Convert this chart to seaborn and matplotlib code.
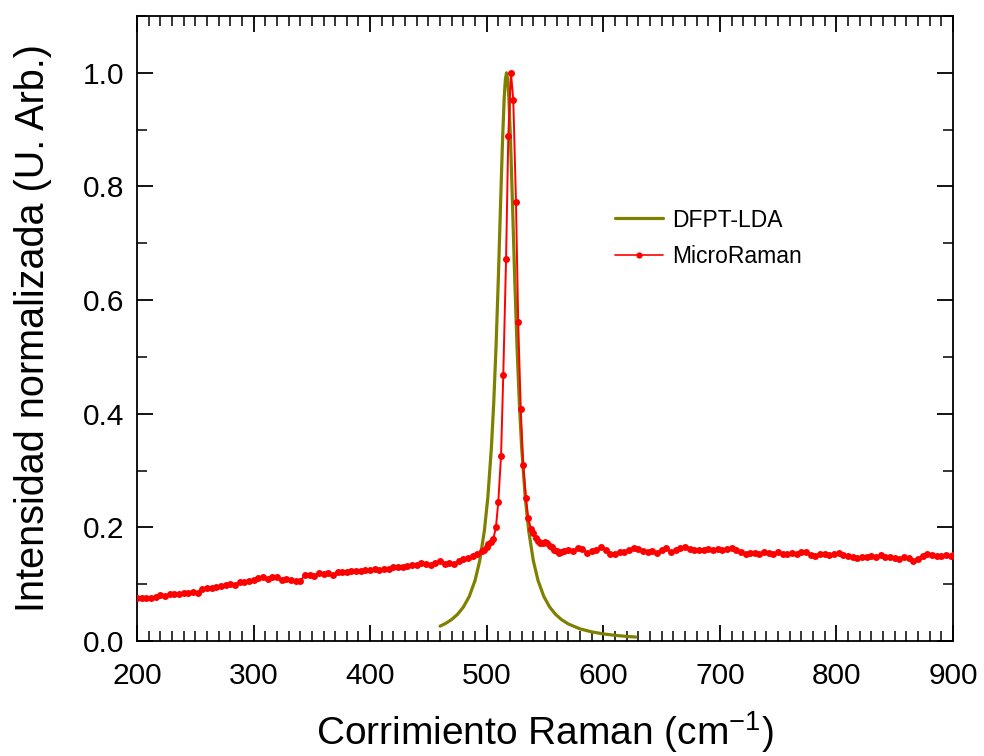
import matplotlib
matplotlib.use("Agg")
import matplotlib.pyplot as plt
import seaborn as sns
import pandas as pd
from matplotlib.ticker import MultipleLocator
from matplotlib.lines import Line2D

# ---- Data -------------------------------------------------------------
dfpt_x = [460, 465, 470, 475, 480, 485, 490, 494, 498, 501, 504, 506, 508, 510,
          512, 513.5, 515, 516, 517, 518, 519, 520.5, 522, 524, 526, 528, 530,
          533, 536, 540, 544, 549, 554, 559, 564, 570, 580, 590, 600, 610, 620, 628]
dfpt_y = [0.0261, 0.0312, 0.0379, 0.0470, 0.0598, 0.0783, 0.1066, 0.1412, 0.1942,
          0.2536, 0.3398, 0.4183, 0.5179, 0.6397, 0.7768, 0.8766, 0.9560, 0.9886,
          1.0000, 0.9886, 0.9560, 0.8766, 0.7768, 0.6397, 0.5179, 0.4183, 0.3398,
          0.2536, 0.1942, 0.1412, 0.1066, 0.0783, 0.0598, 0.0470, 0.0379, 0.0300,
          0.0214, 0.0161, 0.0125, 0.0100, 0.0081, 0.0070]

raman_x = [200, 204, 208, 212, 216, 220, 224, 228, 232, 236, 240, 244, 248, 252,
           256, 260, 264, 268, 272, 276, 280, 284, 288, 292, 296, 300, 304, 308,
           312, 316, 320, 324, 328, 332, 336, 340, 344, 348, 352, 356, 360, 364,
           368, 372, 376, 380, 384, 388, 392, 396, 400, 404, 408, 412, 416, 420,
           424, 428, 432, 436, 440, 444, 448, 452, 456, 460, 464, 468, 472, 476,
           480, 484, 488, 492, 496,
           498.0, 500.0, 501.5, 503.3, 505.6, 507.9, 509.9, 512.3, 514.2, 516.6,
           518.5, 520.8, 522.8, 525.1, 527.0, 529.2, 531.3, 533.7, 535.6, 537.9,
           540.0, 542.0, 544.0, 546.0, 548.0, 550.0, 552.0, 554.0, 556.0, 558.0,
           560.0, 562.0, 564.0,
           566, 570, 574, 578, 582, 586, 590, 594, 598, 602, 606, 610, 614, 618,
           622, 626, 630, 634, 638, 642, 646, 650, 654, 658, 662, 666, 670, 674,
           678, 682, 686, 690, 694, 698, 702, 706, 710, 714, 718, 722, 726, 730,
           734, 738, 742, 746, 750, 754, 758, 762, 766, 770, 774, 778, 782, 786,
           790, 794, 798, 802, 806, 810, 814, 818, 822, 826, 830, 834, 838, 842,
           846, 850, 854, 858, 862, 866, 870, 874, 878, 882, 886, 890, 894, 898, 900]
raman_y = [0.075, 0.075, 0.075, 0.075, 0.077, 0.081, 0.079, 0.082, 0.083, 0.083,
           0.084, 0.085, 0.087, 0.085, 0.092, 0.093, 0.094, 0.095, 0.097, 0.099,
           0.100, 0.099, 0.103, 0.104, 0.106, 0.108, 0.111, 0.112, 0.110, 0.112,
           0.112, 0.107, 0.109, 0.108, 0.106, 0.105, 0.117, 0.117, 0.115, 0.119,
           0.118, 0.119, 0.117, 0.121, 0.122, 0.121, 0.123, 0.124, 0.124, 0.125,
           0.125, 0.126, 0.125, 0.127, 0.126, 0.131, 0.131, 0.130, 0.132, 0.134,
           0.133, 0.137, 0.136, 0.134, 0.138, 0.140, 0.136, 0.137, 0.136, 0.140,
           0.145, 0.146, 0.149, 0.153, 0.158,
           0.160, 0.166, 0.171, 0.174, 0.179, 0.200, 0.244, 0.326, 0.468, 0.672,
           0.888, 1.000, 0.952, 0.773, 0.562, 0.408, 0.309, 0.251, 0.216, 0.198,
           0.190, 0.182, 0.176, 0.172, 0.173, 0.175, 0.172, 0.168, 0.165, 0.161,
           0.158, 0.155, 0.157,
           0.159, 0.161, 0.158, 0.163, 0.162, 0.155, 0.158, 0.161, 0.166, 0.160,
           0.154, 0.153, 0.157, 0.156, 0.161, 0.164, 0.162, 0.159, 0.156, 0.158,
           0.155, 0.160, 0.164, 0.156, 0.160, 0.163, 0.165, 0.162, 0.161, 0.160,
           0.161, 0.162, 0.161, 0.162, 0.161, 0.162, 0.163, 0.160, 0.157, 0.153,
           0.155, 0.155, 0.154, 0.156, 0.155, 0.154, 0.156, 0.153, 0.153, 0.155,
           0.154, 0.156, 0.157, 0.152, 0.150, 0.153, 0.154, 0.151, 0.153, 0.155,
           0.152, 0.150, 0.147, 0.146, 0.148, 0.147, 0.149, 0.148, 0.151, 0.148,
           0.147, 0.146, 0.144, 0.148, 0.146, 0.141, 0.145, 0.150, 0.154, 0.152,
           0.150, 0.149, 0.151, 0.150, 0.151]

x_ticks = [200, 300, 400, 500, 600, 700, 800, 900]
y_ticks = [0.0, 0.2, 0.4, 0.6, 0.8, 1.0]
series_names = ["DFPT-LDA", "MicroRaman"]
x_label = "Corrimiento Raman (cm$^{-1}$)"
y_label = "Intensidad normalizada (U. Arb.)"

# ---- Plot -------------------------------------------------------------
sns.set_theme(style="ticks")
plt.rcParams["font.family"] = ["Liberation Sans", "DejaVu Sans"]
plt.rcParams["mathtext.fontset"] = "custom"
plt.rcParams["mathtext.rm"] = "Liberation Sans"
plt.rcParams["mathtext.it"] = "Liberation Sans"
plt.rcParams["text.color"] = "black"
plt.rcParams["axes.labelcolor"] = "black"
plt.rcParams["xtick.color"] = "black"
plt.rcParams["ytick.color"] = "black"

OLIVE = "#808000"
RED = "#ff0000"

fig = plt.figure(figsize=(9.84, 7.56), dpi=100)
ax = fig.add_axes([137 / 984, 1 - 641 / 756, (953 - 137) / 984, (641 - 16) / 756])

df_dfpt = pd.DataFrame({"x": dfpt_x, "y": dfpt_y})
df_raman = pd.DataFrame({"x": raman_x, "y": raman_y})

sns.lineplot(data=df_dfpt, x="x", y="y", ax=ax, color=OLIVE, linewidth=2.3,
             estimator=None, sort=True, zorder=2)
sns.lineplot(data=df_raman, x="x", y="y", ax=ax, color=RED, linewidth=1.4,
             marker="o", markersize=5.0, markeredgewidth=0, estimator=None,
             sort=True, zorder=3)

ax.set_xlim(200, 900)
ax.set_ylim(0, 1.1)
ax.set_xticks(x_ticks)
ax.set_yticks(y_ticks)
ax.set_xticklabels([str(t) for t in x_ticks])
ax.set_yticklabels([f"{t:.1f}" for t in y_ticks])
ax.xaxis.set_minor_locator(MultipleLocator(10))
ax.yaxis.set_minor_locator(MultipleLocator(0.1))

for s in ax.spines.values():
    s.set_visible(True)
    s.set_linewidth(1.3)
    s.set_color("black")

ax.tick_params(axis="both", which="major", direction="in", length=11.5, width=1.3,
               top=True, right=True, labelsize=21.5, colors="black")
ax.tick_params(axis="x", which="major", pad=15)
ax.tick_params(axis="y", which="major", pad=9)
ax.tick_params(axis="both", which="minor", direction="in", length=7, width=1.1,
               top=True, right=True)

ax.set_xlabel(x_label, fontsize=28, labelpad=14)
ax.set_ylabel(y_label, fontsize=28.5, labelpad=22)

handles = [Line2D([0], [0], color=OLIVE, linewidth=2.3),
           Line2D([0], [0], color=RED, linewidth=1.2, marker="o", markersize=4.5,
                  markeredgewidth=0)]
ax.legend(handles, series_names, loc="upper left", bbox_to_anchor=(0.56, 0.725),
          frameon=False, fontsize=16.5, handlelength=2.1, handletextpad=0.4,
          labelspacing=0.6)

fig.savefig("out.png", dpi=100)
